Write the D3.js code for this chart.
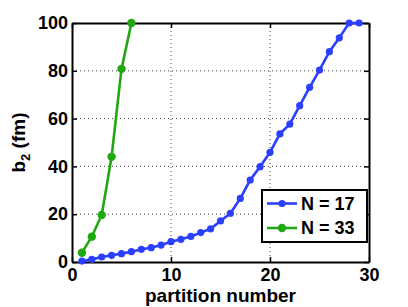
<!DOCTYPE html>
<html>
<head>
<meta charset="utf-8">
<script src="https://cdn.jsdelivr.net/npm/d3@7"></script>
<style>
  body { margin: 0; background: #fff; }
  svg text { font-family: 'Liberation Sans', Arial, sans-serif; font-weight: bold; }
</style>
</head>
<body>
<div id="chart"></div>
<script>
const chartWidth = 408
const chartHeight = 307
const margin = { top: 23, right: 39, bottom: 45, left: 72 }

// data
const n17Partitions = d3.range(1, 30)
const n17Values = [0.4, 1.1, 2.1, 2.8, 3.5, 4.3, 5.3, 6.0, 7.1, 8.5, 9.5, 10.7, 12.3, 13.9, 17.2,
  20.4, 26.6, 34.3, 39.9, 45.9, 53.6, 57.7, 65.4, 73.1, 80.3, 88.0, 93.8, 100, 100]
const n33Partitions = [1, 2, 3, 4, 5, 6]
const n33Values = [3.9, 10.6, 19.7, 44.0, 80.8, 100]
const xTicks = [0, 10, 20, 30]
const yTicks = [0, 20, 40, 60, 80, 100]
const seriesNames = ['N = 17', 'N = 33']
const seriesColors = ['#2b3fff', '#1fa812']

const series = [
  { name: seriesNames[0], color: seriesColors[0], r: 3.6, pts: n17Partitions.map((p, i) => [p, n17Values[i]]) },
  { name: seriesNames[1], color: seriesColors[1], r: 4.2, pts: n33Partitions.map((p, i) => [p, n33Values[i]]) },
]

const w = chartWidth - margin.left - margin.right
const h = chartHeight - margin.top - margin.bottom

const x = d3.scaleLinear().domain([0, 30]).range([0, w])
const y = d3.scaleLinear().domain([0, 100]).range([h, 0])

const svg = d3
  .select('#chart')
  .append('svg')
  .attr('width', chartWidth)
  .attr('height', chartHeight)

const g = svg.append('g').attr('transform', `translate(${margin.left},${margin.top})`)

// 格線 (dotted)
g.append('g')
  .selectAll('line')
  .data(xTicks.slice(1, -1))
  .join('line')
  .attr('x1', d => x(d)).attr('x2', d => x(d))
  .attr('y1', 0).attr('y2', h)
  .attr('stroke', '#444').attr('stroke-width', 1).attr('stroke-dasharray', '1,3')

g.append('g')
  .selectAll('line')
  .data(yTicks.slice(1, -1))
  .join('line')
  .attr('y1', d => y(d)).attr('y2', d => y(d))
  .attr('x1', 0).attr('x2', w)
  .attr('stroke', '#444').attr('stroke-width', 1).attr('stroke-dasharray', '1,3')

// axes, ticks pointing inward
const xAxis = g.append('g')
  .attr('transform', `translate(0,${h})`)
  .call(d3.axisBottom(x).tickValues(xTicks).tickSizeInner(-5).tickSizeOuter(0).tickPadding(6))
const yAxis = g.append('g')
  .call(d3.axisLeft(y).tickValues(yTicks).tickSizeInner(-5).tickSizeOuter(0).tickPadding(4))
const xTop = g.append('g')
  .call(d3.axisTop(x).tickValues(xTicks).tickSizeInner(-5).tickSizeOuter(0).tickFormat(''))
const yRight = g.append('g')
  .attr('transform', `translate(${w},0)`)
  .call(d3.axisRight(y).tickValues(yTicks).tickSizeInner(-5).tickSizeOuter(0).tickFormat(''))

;[xAxis, yAxis, xTop, yRight].forEach(a => {
  a.select('.domain').attr('stroke', '#000').attr('stroke-width', 2)
  a.selectAll('.tick line').attr('stroke', '#000').attr('stroke-width', 1.5)
  a.selectAll('.tick text').attr('fill', '#000').style('font-size', '18px')
})
xAxis.selectAll('.tick text').attr('dy', '0.71em')

// series
const line = d3.line().x(d => x(d[0])).y(d => y(d[1]))
series.forEach(s => {
  g.append('path')
    .datum(s.pts)
    .attr('d', line)
    .attr('fill', 'none')
    .attr('stroke', s.color)
    .attr('stroke-width', 2.6)
  g.append('g')
    .selectAll('circle')
    .data(s.pts)
    .join('circle')
    .attr('cx', d => x(d[0]))
    .attr('cy', d => y(d[1]))
    .attr('r', s.r)
    .attr('fill', s.color)
})

// axis labels
svg.append('text')
  .attr('x', margin.left + w / 2)
  .attr('y', 302)
  .attr('text-anchor', 'middle')
  .style('font-size', '19px')
  .text('partition number')

const yLab = svg.append('text')
  .attr('transform', `translate(25,${margin.top + h / 2}) rotate(-90)`)
  .attr('text-anchor', 'middle')
  .style('font-size', '19px')
yLab.append('tspan').text('b')
yLab.append('tspan').attr('dy', 5).style('font-size', '13px').text('2')
yLab.append('tspan').attr('dy', -5).text(' (fm)')

// legend
const legend = svg.append('g').attr('transform', 'translate(262,190)')
legend.append('rect')
  .attr('width', 105).attr('height', 52)
  .attr('fill', '#fff').attr('stroke', '#000').attr('stroke-width', 2)
series.forEach((s, i) => {
  const ly = 13.5 + i * 24.5
  legend.append('line')
    .attr('x1', 5).attr('x2', 35).attr('y1', ly).attr('y2', ly)
    .attr('stroke', s.color).attr('stroke-width', 2.6)
  legend.append('circle').attr('cx', 20).attr('cy', ly).attr('r', s.r).attr('fill', s.color)
  legend.append('text')
    .attr('x', 39).attr('y', ly).attr('dy', '0.36em')
    .style('font-size', '18px')
    .text(s.name)
})
</script>
</body>
</html>
